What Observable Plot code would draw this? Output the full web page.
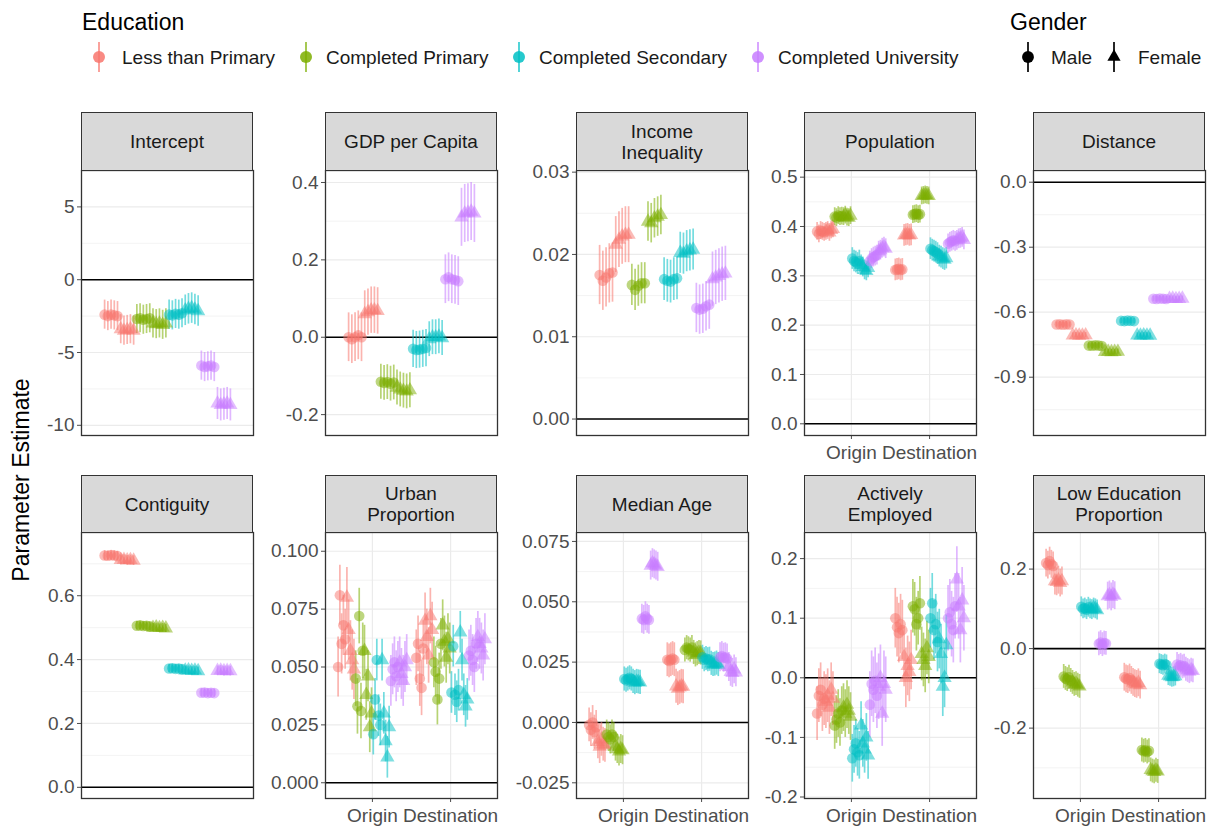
<!DOCTYPE html>
<html><head><meta charset="utf-8">
<script src="https://cdn.jsdelivr.net/npm/d3@7"></script>
<script src="https://cdn.jsdelivr.net/npm/@observablehq/plot@0.6"></script>
<style>
body{margin:0;background:#fff;}
#chart{position:relative;width:1210px;height:828px;font-family:"Liberation Sans",Arial,Helvetica,sans-serif;overflow:hidden;}
.strip{position:absolute;box-sizing:border-box;background:#d9d9d9;border:1.3px solid #333;display:flex;align-items:center;justify-content:center;text-align:center;font-size:19px;line-height:21px;color:#1a1a1a;}
.panel{position:absolute;}
</style></head><body><div id="chart"></div><script>
// ---------- categories ----------
const educations = ["Less than Primary","Completed Primary","Completed Secondary","Completed University"];
const eduColors = ["#F8766D","#7CAE00","#00BFC4","#C77CFF"];
const genders = ["Male","Female"];
const sides = ["Origin","Destination"];

// ---------- estimates: rows = side x education x gender (M,F), 5 replicates each ----------
const estIntercept = [
  [-2.4,-2.5,-2.4,-2.45,-2.5],[-3.4,-3.5,-3.45,-3.4,-3.5],
  [-2.7,-2.65,-2.75,-2.7,-2.65],[-3.0,-3.05,-3.0,-3.1,-3.0],
  [-2.4,-2.45,-2.35,-2.4,-2.3],[-2.1,-2.0,-1.95,-2.05,-2.15],
  [-5.9,-6.0,-5.95,-5.9,-6.0],[-8.5,-8.6,-8.55,-8.5,-8.6]];
const ciIntercept = [1.0,1.0,1.0,1.0,1.0,1.05,1.0,1.1];

const estGDP = [
  [0.0,-0.005,0.0,0.005,0.0],[0.06,0.065,0.07,0.07,0.068],
  [-0.115,-0.118,-0.116,-0.12,-0.117],[-0.13,-0.135,-0.138,-0.14,-0.137],
  [-0.03,-0.033,-0.032,-0.03,-0.028],[-0.005,0.0,0.0,0.002,-0.002],
  [0.15,0.155,0.15,0.148,0.145],[0.31,0.32,0.322,0.325,0.32]];
const ciGDP = [0.063,0.06,0.045,0.045,0.048,0.045,0.063,0.075];

const estIncome = [
  [0.0175,0.0168,0.0172,0.0177,0.0178],[0.0212,0.0218,0.0222,0.0224,0.0224],
  [0.0163,0.0157,0.0162,0.0165,0.0165],[0.0240,0.0238,0.0244,0.0246,0.0248],
  [0.0170,0.0168,0.0167,0.0170,0.0171],[0.0202,0.0201,0.0204,0.0205,0.0206],
  [0.0135,0.0133,0.0134,0.0137,0.0139],[0.0170,0.0172,0.0174,0.0176,0.0177]];
const ciIncome = [0.0036,0.0034,0.0025,0.0024,0.0026,0.0025,0.003,0.0033];

const estPopulation = [
  [0.39,0.385,0.392,0.39,0.388],[0.39,0.392,0.388,0.393,0.395],
  [0.42,0.418,0.422,0.42,0.421],[0.42,0.423,0.419,0.418,0.422],
  [0.335,0.33,0.328,0.325,0.33],[0.322,0.318,0.312,0.31,0.316],
  [0.33,0.335,0.338,0.34,0.342],[0.35,0.352,0.356,0.358,0.355],
  [0.312,0.313,0.314,0.312,0.313],[0.382,0.383,0.384,0.382,0.383],
  [0.424,0.425,0.426,0.424,0.425],[0.462,0.463,0.464,0.463,0.462],
  [0.355,0.352,0.35,0.348,0.345],[0.34,0.338,0.335,0.333,0.336],
  [0.365,0.368,0.37,0.372,0.37],[0.372,0.375,0.376,0.378,0.373]];
const ciPopulation = [0.018,0.018,0.018,0.018,0.022,0.02,0.02,0.02,0.022,0.022,0.018,0.018,0.022,0.022,0.02,0.02];

const estDistance = [
  [-0.657,-0.656,-0.658,-0.656,-0.657],[-0.707,-0.706,-0.708,-0.707,-0.706],
  [-0.754,-0.755,-0.753,-0.754,-0.756],[-0.783,-0.782,-0.784,-0.783,-0.782],
  [-0.640,-0.641,-0.639,-0.640,-0.641],[-0.707,-0.708,-0.706,-0.707,-0.708],
  [-0.538,-0.539,-0.537,-0.538,-0.539],[-0.538,-0.537,-0.539,-0.538,-0.537]];
const ciDistance = [0.012,0.012,0.012,0.012,0.012,0.012,0.012,0.012];

const estContiguity = [
  [0.726,0.725,0.727,0.726,0.724],[0.712,0.713,0.711,0.712,0.71],
  [0.506,0.507,0.505,0.506,0.504],[0.50,0.501,0.499,0.50,0.498],
  [0.372,0.373,0.371,0.372,0.370],[0.366,0.367,0.365,0.366,0.364],
  [0.296,0.297,0.295,0.296,0.295],[0.365,0.366,0.364,0.365,0.364]];
const ciContiguity = [0.015,0.015,0.013,0.013,0.013,0.013,0.013,0.015];

const estUrban = [
  [0.050,0.081,0.060,0.068,0.062],[0.080,0.066,0.057,0.053,0.049],
  [0.045,0.033,0.072,0.031,0.057],[0.057,0.038,0.046,0.024,0.030],
  [0.021,0.036,0.053,0.029,0.025],[0.053,0.030,0.018,0.011,0.024],
  [0.044,0.049,0.052,0.046,0.050],[0.052,0.047,0.044,0.050,0.053],
  [0.054,0.060,0.045,0.041,0.058],[0.070,0.063,0.055,0.072,0.066],
  [0.052,0.048,0.036,0.045,0.060],[0.068,0.061,0.054,0.062,0.058],
  [0.039,0.059,0.038,0.035,0.040],[0.065,0.053,0.038,0.033,0.036],
  [0.055,0.057,0.053,0.050,0.060],[0.063,0.060,0.058,0.055,0.062]];
const ciUrban = [0.013,0.013,0.012,0.011,0.009,0.009,0.011,0.011,0.012,0.012,0.011,0.011,0.009,0.009,0.011,0.011];

const estMedianAge = [
  [-0.001,-0.003,0.0,-0.004,-0.002],[-0.008,-0.010,-0.007,-0.009,-0.0095],
  [-0.005,-0.006,-0.007,-0.005,-0.006],[-0.010,-0.011,-0.012,-0.011,-0.0115],
  [0.018,0.0175,0.018,0.0185,0.018],[0.017,0.0165,0.017,0.0168,0.0166],
  [0.043,0.0425,0.044,0.043,0.0425],[0.065,0.066,0.0655,0.065,0.0645],
  [0.026,0.0255,0.026,0.0265,0.026],[0.015,0.014,0.0145,0.015,0.0148],
  [0.030,0.031,0.0305,0.030,0.031],[0.029,0.028,0.0285,0.029,0.0288],
  [0.027,0.026,0.0265,0.026,0.0262],[0.0245,0.024,0.0242,0.0246,0.024],
  [0.027,0.0275,0.0268,0.027,0.0265],[0.023,0.021,0.0205,0.022,0.0208]];
const ciMedianAge = [0.007,0.007,0.006,0.006,0.005,0.005,0.006,0.006,0.007,0.007,0.005,0.005,0.005,0.005,0.006,0.006];

const estEmployed = [
  [-0.06,-0.03,-0.02,-0.045,-0.035],[-0.04,-0.03,-0.05,-0.02,-0.035],
  [-0.08,-0.07,-0.06,-0.075,-0.055],[-0.05,-0.06,-0.045,-0.055,-0.065],
  [-0.135,-0.12,-0.11,-0.125,-0.13],[-0.08,-0.11,-0.12,-0.10,-0.13],
  [-0.045,-0.01,-0.02,-0.005,-0.03],[-0.015,0.0,-0.06,-0.01,-0.02],
  [0.10,0.085,0.075,0.09,0.08],[0.035,0.0,0.02,0.01,0.03],
  [0.12,0.115,0.09,0.10,0.125],[0.04,0.03,0.02,0.05,0.035],
  [0.10,0.125,0.08,0.09,0.06],[0.065,0.04,-0.015,0.0,0.055],
  [0.10,0.11,0.09,0.08,0.12],[0.165,0.12,0.08,0.13,0.10]];
const ciEmployed = [0.045,0.045,0.04,0.04,0.04,0.04,0.055,0.055,0.05,0.05,0.045,0.045,0.05,0.05,0.055,0.055];

const estLowEducation = [
  [0.215,0.21,0.22,0.212,0.208],[0.17,0.168,0.172,0.165,0.17],
  [-0.07,-0.075,-0.078,-0.072,-0.08],[-0.085,-0.09,-0.088,-0.092,-0.095],
  [0.105,0.10,0.102,0.098,0.104],[0.10,0.098,0.102,0.10,0.097],
  [0.012,0.015,0.01,0.014,0.013],[0.132,0.135,0.13,0.136,0.133],
  [-0.072,-0.076,-0.078,-0.074,-0.08],[-0.085,-0.088,-0.09,-0.086,-0.092],
  [-0.255,-0.258,-0.256,-0.26,-0.257],[-0.305,-0.308,-0.31,-0.306,-0.309],
  [-0.038,-0.04,-0.042,-0.039,-0.041],[-0.068,-0.07,-0.072,-0.071,-0.069],
  [-0.04,-0.045,-0.042,-0.046,-0.044],[-0.052,-0.055,-0.058,-0.054,-0.056]];
const ciLowEducation = [0.035,0.035,0.03,0.03,0.025,0.025,0.03,0.035,0.035,0.035,0.03,0.03,0.025,0.025,0.03,0.03];

// ---------- y tick values and labels ----------
const ticksIntercept = [-10,-5,0,5];           const labelsIntercept = ["-10","-5","0","5"];
const ticksGDP = [-0.2,0,0.2,0.4];             const labelsGDP = ["-0.2","0.0","0.2","0.4"];
const ticksIncome = [0,0.01,0.02,0.03];        const labelsIncome = ["0.00","0.01","0.02","0.03"];
const ticksPopulation = [0,0.1,0.2,0.3,0.4,0.5]; const labelsPopulation = ["0.0","0.1","0.2","0.3","0.4","0.5"];
const ticksDistance = [-0.9,-0.6,-0.3,0];      const labelsDistance = ["-0.9","-0.6","-0.3","0.0"];
const ticksContiguity = [0,0.2,0.4,0.6];       const labelsContiguity = ["0.0","0.2","0.4","0.6"];
const ticksUrban = [0,0.025,0.05,0.075,0.1];   const labelsUrban = ["0.000","0.025","0.050","0.075","0.100"];
const ticksMedianAge = [-0.025,0,0.025,0.05,0.075]; const labelsMedianAge = ["-0.025","0.000","0.025","0.050","0.075"];
const ticksEmployed = [-0.2,-0.1,0,0.1,0.2];   const labelsEmployed = ["-0.2","-0.1","0.0","0.1","0.2"];
const ticksLowEducation = [-0.2,0,0.2];        const labelsLowEducation = ["-0.2","0.0","0.2"];

// ---------- panels ----------
const panels = [
  {strip:["Intercept"], n:1, est:estIntercept, ci:ciIntercept, ticks:ticksIntercept, labels:labelsIntercept, domain:[-10.7,7.5]},
  {strip:["GDP per Capita"], n:1, est:estGDP, ci:ciGDP, ticks:ticksGDP, labels:labelsGDP, domain:[-0.254,0.431]},
  {strip:["Income","Inequality"], n:1, est:estIncome, ci:ciIncome, ticks:ticksIncome, labels:labelsIncome, domain:[-0.002,0.0302]},
  {strip:["Population"], n:2, est:estPopulation, ci:ciPopulation, ticks:ticksPopulation, labels:labelsPopulation, domain:[-0.0237,0.5135]},
  {strip:["Distance"], n:1, est:estDistance, ci:ciDistance, ticks:ticksDistance, labels:labelsDistance, domain:[-1.169,0.054]},
  {strip:["Contiguity"], n:1, est:estContiguity, ci:ciContiguity, ticks:ticksContiguity, labels:labelsContiguity, domain:[-0.035,0.798]},
  {strip:["Urban","Proportion"], n:2, est:estUrban, ci:ciUrban, ticks:ticksUrban, labels:labelsUrban, domain:[-0.0068,0.1081]},
  {strip:["Median Age"], n:2, est:estMedianAge, ci:ciMedianAge, ticks:ticksMedianAge, labels:labelsMedianAge, domain:[-0.0315,0.0787]},
  {strip:["Actively","Employed"], n:2, est:estEmployed, ci:ciEmployed, ticks:ticksEmployed, labels:labelsEmployed, domain:[-0.2025,0.2438]},
  {strip:["Low Education","Proportion"], n:2, est:estLowEducation, ci:ciLowEducation, ticks:ticksLowEducation, labels:labelsLowEducation, domain:[-0.377,0.292]}
];

// ---------- layout ----------
const FONT = '"Liberation Sans", Arial, Helvetica, sans-serif';
const colLeft = [81,325,576,804,1033];
const panelW = 172;
const stripTop = [112,475];
const panelTop = [170,532];
const panelBottom = [435,798];
const mL = 70, mR = 40, mT = 2, mB = 28;
const dodgeWidth = 0.9, reps = 5, groups = 8;

const chart = document.getElementById("chart");

function rowsFor(p) {
  const rows = [];
  for (let s = 0; s < p.n; s++) {
    educations.forEach((edu, e) => {
      genders.forEach((g, gi) => {
        const c = e * 2 + gi, row = s * groups + c;
        p.est[row].forEach((v, r) => {
          const k = c * reps + r;
          rows.push({side: sides[s], edu, gender: g,
            x: s + 1 + ((k + 0.5) / (groups * reps) - 0.5) * dodgeWidth,
            y: v, lo: v - p.ci[row], hi: v + p.ci[row]});
        });
      });
    });
  }
  return rows;
}

panels.forEach((p, i) => {
  const row = Math.floor(i / 5), col = i % 5;
  const left = colLeft[col];
  const h = panelBottom[row] - panelTop[row];
  const step = p.ticks[1] - p.ticks[0];
  const minor = [];
  for (let t = p.ticks[0] - step / 2; t <= p.domain[1]; t += step) if (t >= p.domain[0]) minor.push(t);
  const rows = rowsFor(p);
  const svg = Plot.plot({
    width: mL + panelW + mR, height: mT + h + mB,
    marginLeft: mL, marginRight: mR, marginTop: mT, marginBottom: mB,
    x: {domain: p.n === 2 ? [0.4, 2.6] : [0.4, 1.6], axis: null, label: null},
    y: {domain: p.domain, axis: null, label: null},
    color: {domain: educations, range: eduColors},
    symbol: {domain: genders, range: ["circle", "triangle"]},
    style: {fontFamily: FONT, fontSize: "19px", background: "transparent", overflow: "visible", color: "#4d4d4d"},
    marks: [
      Plot.frame({fill: "white", stroke: "none"}),
      Plot.ruleY(minor, {stroke: "#ebebeb", strokeWidth: 0.6}),
      Plot.ruleY(p.ticks, {stroke: "#ebebeb", strokeWidth: 1.2}),
      p.n === 2 ? Plot.ruleX([1, 2], {stroke: "#ebebeb", strokeWidth: 1.2}) : null,
      Plot.ruleY([0], {stroke: "black", strokeWidth: 1.6}),
      Plot.ruleX(rows, {x: "x", y1: "lo", y2: "hi", stroke: "edu", strokeOpacity: 0.55, strokeWidth: 1.7}),
      Plot.dot(rows, {x: "x", y: "y", fill: "edu", symbol: "gender", r: 5.3, fillOpacity: 0.5}),
      Plot.axisY({ticks: p.ticks, tickFormat: d => p.labels[p.ticks.indexOf(d)], tickSize: 4, tickPadding: 3, color: "#4d4d4d", label: null}),
      p.n === 2 ? Plot.axisX({ticks: [1, 2], tickFormat: d => sides[d - 1], tickSize: 4, tickPadding: 6, color: "#4d4d4d", label: null}) : null,
      Plot.frame({stroke: "#333", strokeWidth: 1.3})
    ]
  });
  svg.classList.add("panel");
  svg.style.left = (left - mL) + "px";
  svg.style.top = (panelTop[row] - mT) + "px";
  chart.appendChild(svg);

  const strip = document.createElement("div");
  strip.className = "strip";
  strip.style.left = left + "px";
  strip.style.top = stripTop[row] + "px";
  strip.style.width = panelW + "px";
  strip.style.height = (panelTop[row] - stripTop[row] + 1) + "px";
  strip.innerHTML = p.strip.join("<br>");
  chart.appendChild(strip);
});

// ---------- legend and axis title ----------
const over = d3.select(chart).append("svg")
  .attr("width", 1210).attr("height", 828)
  .style("position", "absolute").style("left", 0).style("top", 0)
  .style("pointer-events", "none")
  .style("font-family", FONT);

over.append("text").attr("x", 82).attr("y", 30).attr("font-size", 23).attr("fill", "#000").text("Education");
over.append("text").attr("x", 1010).attr("y", 30).attr("font-size", 23).attr("fill", "#000").text("Gender");

const keyY = 57;
const eduKeyX = [99, 306, 519, 758];
const eduLabelX = [122, 326, 539, 778];
educations.forEach((e, i) => {
  over.append("line").attr("x1", eduKeyX[i]).attr("x2", eduKeyX[i]).attr("y1", keyY - 15).attr("y2", keyY + 15)
    .attr("stroke", eduColors[i]).attr("stroke-width", 1.7).attr("stroke-opacity", 0.8);
  over.append("circle").attr("cx", eduKeyX[i]).attr("cy", keyY).attr("r", 6).attr("fill", eduColors[i]).attr("fill-opacity", 0.85);
  over.append("text").attr("x", eduLabelX[i]).attr("y", keyY + 7).attr("font-size", 19).attr("fill", "#1a1a1a").text(e);
});
const genKeyX = [1028, 1114];
const genLabelX = [1051, 1138];
genders.forEach((g, i) => {
  over.append("line").attr("x1", genKeyX[i]).attr("x2", genKeyX[i]).attr("y1", keyY - 15).attr("y2", keyY + 15)
    .attr("stroke", "#000").attr("stroke-width", 1.7);
  const sym = i === 0 ? d3.symbolCircle : d3.symbolTriangle2;
  over.append("path").attr("d", d3.symbol(sym, i === 0 ? 110 : 125)())
    .attr("transform", `translate(${genKeyX[i]},${keyY})`).attr("fill", "#000");
  over.append("text").attr("x", genLabelX[i]).attr("y", keyY + 7).attr("font-size", 19).attr("fill", "#1a1a1a").text(g);
});

over.append("text")
  .attr("transform", "translate(29,480) rotate(-90)")
  .attr("text-anchor", "middle").attr("font-size", 23).attr("fill", "#000")
  .text("Parameter Estimate");
</script></body></html>
